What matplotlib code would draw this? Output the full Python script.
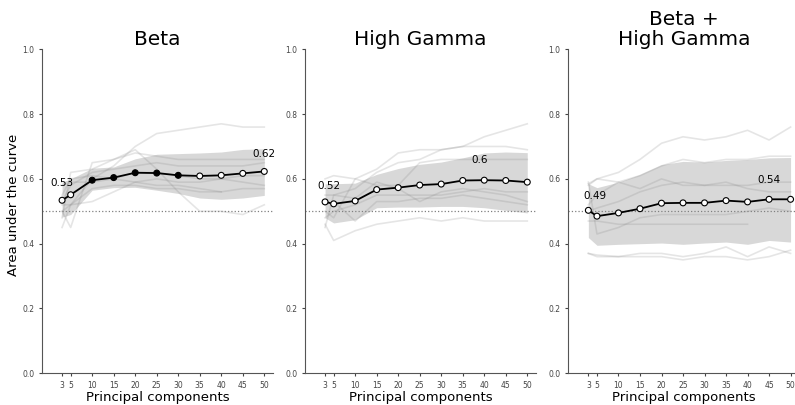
import numpy as np
import matplotlib
matplotlib.use("Agg")
import matplotlib.pyplot as plt

# principal components
pcs = [3, 5, 10, 15, 20, 25, 30, 35, 40, 45, 50]

titles = ["Beta", "High Gamma", "Beta +\nHigh Gamma"]

# mean AUC across subjects
beta_mean = [0.534, 0.551, 0.596, 0.604, 0.619, 0.618, 0.611, 0.609, 0.611, 0.617, 0.623]
hg_mean = [0.529, 0.523, 0.532, 0.567, 0.573, 0.581, 0.584, 0.595, 0.596, 0.595, 0.590]
both_mean = [0.503, 0.485, 0.495, 0.508, 0.525, 0.526, 0.526, 0.533, 0.529, 0.537, 0.537]

# significant points (filled markers)
beta_sig = [False, False, True, True, True, True, True, False, False, False, False]
hg_sig = [False] * 11
both_sig = [False] * 11

# annotated values (x position, value shown)
beta_ann_x = [3, 50]
beta_ann = [0.53, 0.62]
hg_ann_x = [4, 39]
hg_ann = [0.52, 0.6]
both_ann_x = [4.5, 45]
both_ann = [0.49, 0.54]

# shaded band (lower / upper)
beta_lo = [0.482, 0.490, 0.565, 0.573, 0.574, 0.565, 0.555, 0.541, 0.537, 0.541, 0.549]
beta_hi = [0.590, 0.600, 0.633, 0.637, 0.662, 0.676, 0.678, 0.680, 0.683, 0.691, 0.693]
hg_lo = [0.480, 0.464, 0.474, 0.511, 0.513, 0.513, 0.515, 0.515, 0.511, 0.503, 0.495]
hg_hi = [0.585, 0.585, 0.587, 0.614, 0.632, 0.645, 0.652, 0.665, 0.680, 0.683, 0.681]
both_lo = [0.419, 0.395, 0.398, 0.400, 0.402, 0.398, 0.402, 0.405, 0.398, 0.410, 0.405]
both_hi = [0.585, 0.573, 0.590, 0.614, 0.644, 0.654, 0.652, 0.657, 0.660, 0.665, 0.666]

# individual subjects
beta_subj = [
    [0.45, 0.52, 0.60, 0.64, 0.70, 0.74, 0.75, 0.76, 0.77, 0.76, 0.76],
    [0.48, 0.62, 0.63, 0.66, 0.69, 0.63, 0.56, 0.50, 0.50, 0.49, 0.52],
    [0.50, 0.45, 0.65, 0.66, 0.68, 0.67, 0.66, 0.66, 0.66, 0.66, 0.66],
    [0.53, 0.58, 0.62, 0.63, 0.64, 0.65, 0.64, 0.64, 0.64, 0.64, 0.65],
    [0.55, 0.60, 0.61, 0.60, 0.62, 0.62, 0.61, 0.60, 0.60, 0.59, 0.58],
    [0.58, 0.59, 0.59, 0.60, 0.59, 0.58, 0.58, 0.57, 0.56, 0.57, 0.57],
    [0.52, 0.52, 0.57, 0.58, 0.58, 0.57, 0.57, 0.56, 0.56, np.nan, np.nan],
    [0.50, 0.52, 0.53, 0.56, 0.59, 0.60, 0.59, 0.59, 0.60, 0.61, 0.61],
]
hg_subj = [
    [0.45, 0.55, 0.57, 0.62, 0.65, 0.66, 0.69, 0.70, 0.73, 0.75, 0.77],
    [0.60, 0.61, 0.60, 0.63, 0.68, 0.69, 0.69, 0.70, 0.70, 0.70, 0.69],
    [0.46, 0.41, 0.44, 0.46, 0.47, 0.48, 0.47, 0.48, 0.47, 0.47, 0.47],
    [0.50, 0.48, 0.60, 0.58, 0.58, 0.65, 0.66, 0.66, 0.66, 0.66, 0.66],
    [0.55, 0.55, 0.54, 0.59, 0.57, 0.53, 0.56, 0.57, 0.56, 0.55, 0.53],
    [0.52, 0.53, 0.47, 0.53, 0.53, 0.54, 0.54, 0.55, 0.54, 0.53, 0.52],
    [0.48, 0.50, 0.52, 0.55, 0.55, 0.55, 0.55, 0.56, 0.57, 0.56, 0.56],
]
both_subj = [
    [0.585, 0.60, 0.62, 0.66, 0.71, 0.73, 0.72, 0.73, 0.75, 0.72, 0.76],
    [0.37, 0.365, 0.36, 0.37, 0.37, 0.36, 0.37, 0.39, 0.36, 0.39, 0.37],
    [0.37, 0.36, 0.36, 0.36, 0.36, 0.35, 0.36, 0.36, 0.35, 0.36, 0.38],
    [0.47, 0.47, 0.46, 0.46, 0.46, 0.46, 0.46, 0.46, 0.46, np.nan, np.nan],
    [0.59, 0.43, 0.45, 0.48, 0.49, 0.49, 0.49, 0.49, 0.50, 0.51, 0.50],
    [0.58, 0.60, 0.59, 0.57, 0.60, 0.58, 0.58, 0.59, 0.57, 0.56, 0.56],
    [0.50, 0.51, 0.53, 0.56, 0.58, 0.59, 0.58, 0.58, 0.58, 0.59, 0.59],
    [0.52, 0.55, 0.59, 0.61, 0.64, 0.66, 0.65, 0.66, 0.66, 0.67, 0.67],
]

panels = [
    (beta_mean, beta_sig, beta_lo, beta_hi, beta_subj, beta_ann_x, beta_ann),
    (hg_mean, hg_sig, hg_lo, hg_hi, hg_subj, hg_ann_x, hg_ann),
    (both_mean, both_sig, both_lo, both_hi, both_subj, both_ann_x, both_ann),
]

fig = plt.figure(figsize=(7.95, 4.05), dpi=100)
lefts = [0.0528, 0.3836, 0.7148]

for i, (mean, sig, lo, hi, subj, ann_x, ann) in enumerate(panels):
    ax = fig.add_axes([lefts[i], 0.0783, 0.291, 0.80])
    for s in subj:
        ax.plot(pcs, s, color="gray", alpha=0.2, lw=1.2, zorder=1)
    ax.fill_between(pcs, lo, hi, color="gray", alpha=0.3, lw=0, zorder=2)
    ax.axhline(0.5, color="gray", ls=":", lw=0.9, zorder=1)
    ax.plot(pcs, mean, color="black", lw=1.3, zorder=3)
    face = ["black" if s_ else "white" for s_ in sig]
    ax.scatter(pcs, mean, s=18, c=face, edgecolors="black", linewidths=0.8, zorder=4)

    for xa, va in zip(ann_x, ann):
        ax.text(xa, va + 0.058, str(va), ha="center", va="center", fontsize=7.5)

    ax.set_xlim(-1.67, 52.1)
    ax.set_ylim(0, 1)
    ax.set_xticks(pcs)
    ax.set_yticks([0, 0.2, 0.4, 0.6, 0.8, 1.0])
    ax.tick_params(labelsize=5.5, colors="#444444", length=2.5, pad=3)
    for sp in ["top", "right"]:
        ax.spines[sp].set_visible(False)
    for sp in ["left", "bottom"]:
        ax.spines[sp].set_color("#555555")
    ax.set_xlabel("Principal components", fontsize=9.5, labelpad=1)
    ax.set_title(titles[i], fontsize=14.5, linespacing=1.05, pad=3)
    if i == 0:
        ax.set_ylabel("Area under the curve", fontsize=9.5)
        ax.yaxis.set_label_coords(-0.095, 0.52)

fig.savefig("out.png", dpi=100)
